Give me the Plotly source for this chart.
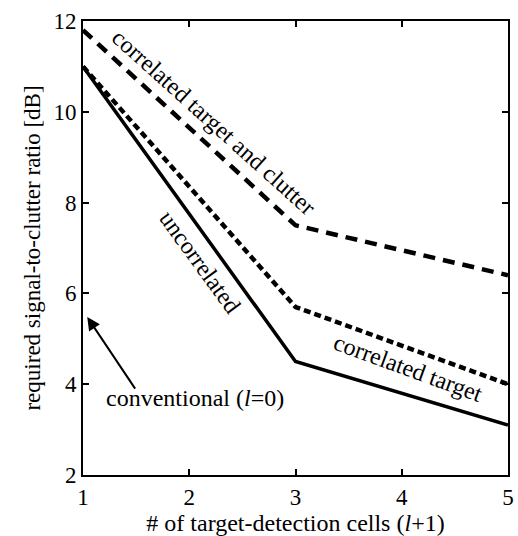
import plotly.graph_objects as go

cells = [1, 3, 5]
uncorrelated = [11.0, 4.5, 3.1]
correlated_target = [11.0, 5.7, 4.0]
correlated_target_clutter = [11.8, 7.5, 6.4]

x_ticks = [1, 2, 3, 4, 5]
y_ticks = [2, 4, 6, 8, 10, 12]

FONT = "Liberation Serif"

fig = go.Figure()
fig.add_trace(go.Scatter(x=cells, y=correlated_target_clutter, mode="lines",
                         line=dict(color="black", width=4.5, dash="12px,8px"),
                         name="correlated target and clutter"))
fig.add_trace(go.Scatter(x=cells, y=correlated_target, mode="lines",
                         line=dict(color="black", width=4.5, dash="7px,4px"),
                         name="correlated target"))
fig.add_trace(go.Scatter(x=cells, y=uncorrelated, mode="lines",
                         line=dict(color="black", width=3.5),
                         name="uncorrelated"))

ann_font = dict(family=FONT, size=24, color="black")
fig.add_annotation(x=2.23, y=9.78, text="correlated target and clutter", showarrow=False,
                   textangle=42, font=ann_font)
fig.add_annotation(x=2.10, y=6.69, text="uncorrelated", showarrow=False,
                   textangle=54, font=ann_font)
fig.add_annotation(x=4.06, y=4.36, text="correlated target", showarrow=False,
                   textangle=20, font=ann_font)
fig.add_annotation(x=2.05, y=3.70, text="conventional (<i>l</i>=0)", showarrow=False,
                   font=ann_font)
fig.add_annotation(x=1.04, y=5.48, ax=1.50, ay=3.87, axref="x", ayref="y",
                   text="", showarrow=True, arrowhead=2, arrowsize=1.3,
                   arrowwidth=2, arrowcolor="black")

fig.update_layout(
    template="none",
    width=518, height=536,
    margin=dict(l=83, r=10, t=21, b=61, autoexpand=False),
    plot_bgcolor="white", paper_bgcolor="white",
    showlegend=False,
    font=dict(family=FONT, color="black"),
)
fig.update_xaxes(range=[1, 5], tickvals=x_ticks, ticktext=[str(v) for v in x_ticks],
                 ticks="inside", ticklen=6, tickwidth=2, tickcolor="black",
                 showline=True, linewidth=2, linecolor="black", mirror="allticks",
                 showgrid=False, zeroline=False, automargin=False,
                 tickfont=dict(family=FONT, size=23),
                 title=dict(text="# of target-detection cells (<i>l</i>+1)",
                            font=dict(family=FONT, size=24), standoff=2))
fig.update_yaxes(range=[2, 12], tickvals=y_ticks, ticktext=[str(v) for v in y_ticks],
                 ticks="inside", ticklen=6, tickwidth=2, tickcolor="black",
                 showline=True, linewidth=2, linecolor="black", mirror="allticks",
                 showgrid=False, zeroline=False, automargin=False,
                 tickfont=dict(family=FONT, size=23),
                 title=dict(text="required signal-to-clutter ratio [dB]",
                            font=dict(family=FONT, size=23), standoff=6))

fig.write_html("out.html", config={"displayModeBar": False},
               post_script="document.body.style.margin='0';document.body.style.overflow='hidden';")
